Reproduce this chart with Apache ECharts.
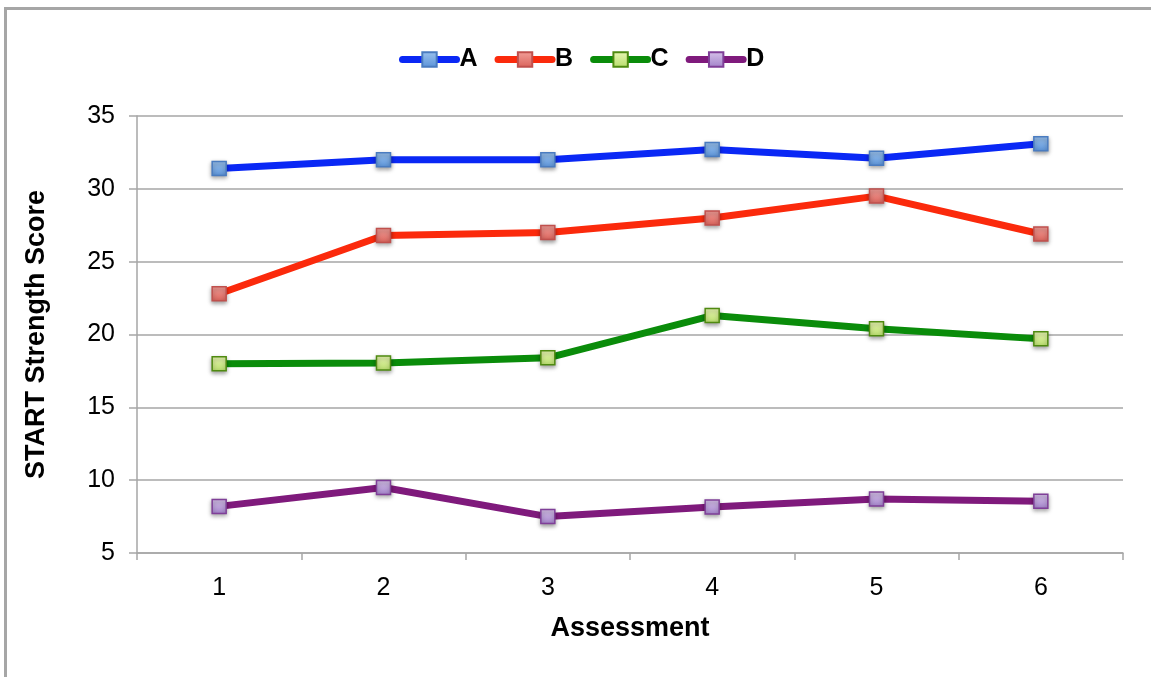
<!DOCTYPE html>
<html>
<head>
<meta charset="utf-8">
<script src="https://cdn.jsdelivr.net/npm/echarts@6/dist/echarts.min.js"></script>
<style>
  html, body { margin: 0; padding: 0; background: #fff; }
  #chart { width: 1151px; height: 677px; }
</style>
</head>
<body>
<div id="chart"></div>
<script>
// Assessment rounds and START strength scores per group
const assessments = ['1', '2', '3', '4', '5', '6'];
const seriesNames = ['A', 'B', 'C', 'D'];
const scoresA = [31.4, 32.0, 32.0, 32.7, 32.1, 33.1];
const scoresB = [22.8, 26.8, 27.0, 28.0, 29.5, 26.9];
const scoresC = [18.0, 18.05, 18.4, 21.3, 20.4, 19.7];
const scoresD = [8.2, 9.5, 7.5, 8.15, 8.7, 8.55];
const yTicks = { min: 5, max: 35, interval: 5 };

const lineColors = ['#0a28f5', '#fb2a0c', '#0a8c0a', '#7f1a7c'];
const markerFills = [
  ['#9cc3ee', '#5b93d8'],
  ['#f3a09a', '#d9625a'],
  ['#eaf7b4', '#b7dc6c'],
  ['#d7c3ea', '#a282c9']
];
const markerBorders = ['#4a7cc0', '#c0504d', '#4f8a10', '#7f3f98'];
const allScores = [scoresA, scoresB, scoresC, scoresD];

function markerStyle(i) {
  return {
    color: new echarts.graphic.LinearGradient(0, 0, 0, 1, [
      { offset: 0, color: markerFills[i][0] },
      { offset: 1, color: markerFills[i][1] }
    ]),
    borderColor: markerBorders[i],
    borderWidth: 1.5,
    shadowColor: 'rgba(0,0,0,0.35)',
    shadowBlur: 4,
    shadowOffsetY: 2
  };
}

const FONT = 'Liberation Sans, Arial, sans-serif';
const chart = echarts.init(document.getElementById('chart'), null, { renderer: 'canvas' });

chart.setOption({
  animation: false,
  backgroundColor: '#fff',
  textStyle: { fontFamily: FONT },
  graphic: [{
    type: 'polyline',
    shape: { points: [[5.5, 700], [5.5, 8.5], [1160, 8.5]] },
    style: { stroke: '#a6a6a6', lineWidth: 3, fill: null },
    silent: true
  }],
  legend: {
    top: 42,
    left: 394,
    itemWidth: 54,
    itemHeight: 18,
    itemGap: 17,
    lineStyle: { width: 7, cap: 'round' },
    textStyle: { fontSize: 25, fontWeight: 'bold', color: '#000', padding: [0, 0, 0, -2] },
    data: seriesNames
  },
  grid: { left: 137, right: 28, top: 116, bottom: 124 },
  xAxis: {
    type: 'category',
    data: assessments,
    boundaryGap: true,
    name: 'Assessment',
    nameLocation: 'middle',
    nameGap: 62,
    nameTextStyle: { fontSize: 27, fontWeight: 'bold', color: '#000' },
    axisLine: { lineStyle: { color: '#a6a6a6', width: 1.5 } },
    axisTick: { show: true, length: 7, alignWithLabel: false, lineStyle: { color: '#a6a6a6', width: 1.5 } },
    axisLabel: { fontSize: 25, color: '#000', margin: 23 }
  },
  yAxis: {
    type: 'value',
    min: yTicks.min,
    max: yTicks.max,
    interval: yTicks.interval,
    name: 'START Strength Score',
    nameLocation: 'middle',
    nameGap: 87,
    nameTextStyle: { fontSize: 27, fontWeight: 'bold', color: '#000' },
    axisLine: { show: true, lineStyle: { color: '#a6a6a6', width: 1.5 } },
    axisTick: { show: true, length: 8, lineStyle: { color: '#a6a6a6', width: 1.5 } },
    axisLabel: { fontSize: 25, color: '#000', margin: 22 },
    splitLine: { lineStyle: { color: '#a6a6a6', width: 1.5 } }
  },
  series: seriesNames.map((name, i) => ({
    name: name,
    type: 'line',
    data: allScores[i],
    symbol: 'rect',
    symbolSize: 14,
    lineStyle: { color: lineColors[i], width: 7, cap: 'round', join: 'round' },
    itemStyle: markerStyle(i),
    emphasis: { disabled: true },
    z: 2 + i
  }))
});
</script>
</body>
</html>
